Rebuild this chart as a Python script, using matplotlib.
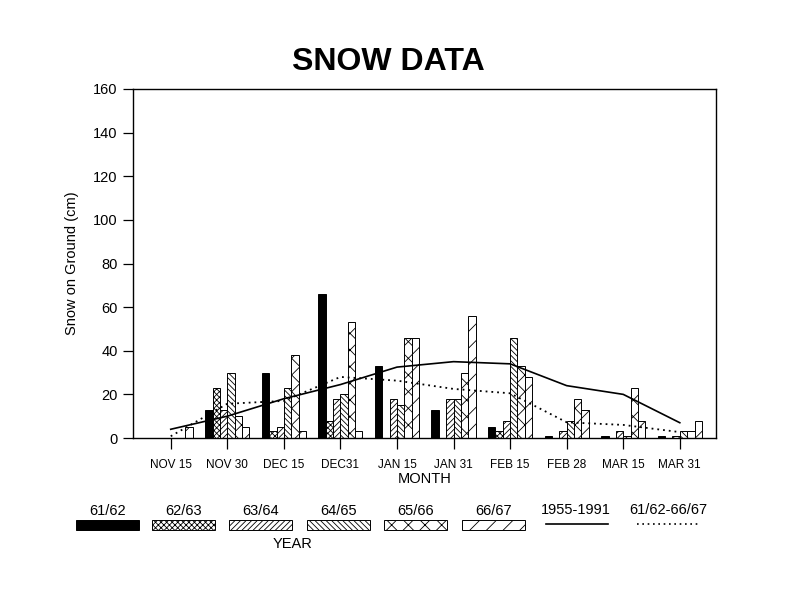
import matplotlib
matplotlib.use("Agg")
import matplotlib.pyplot as plt
import numpy as np
from matplotlib.patches import Rectangle
from matplotlib.lines import Line2D

plt.rcParams['font.family'] = ['Liberation Sans', 'DejaVu Sans']
plt.rcParams['hatch.linewidth'] = 0.6

# data
months = ["NOV 15", "NOV 30", "DEC 15", "DEC31", "JAN 15",
          "JAN 31", "FEB 15", "FEB 28", "MAR 15", "MAR 31"]
years = ["61/62", "62/63", "63/64", "64/65", "65/66", "66/67"]
s6162 = [0, 13, 30, 66, 33, 13, 5, 1, 1, 1]
s6263 = [0, 23, 3, 8, 0, 0, 3, 0, 0, 0]
s6364 = [0, 13, 5, 18, 18, 18, 8, 3, 3, 1]
s6465 = [0, 30, 23, 20, 15, 18, 46, 8, 1, 3]
s6566 = [0, 10, 38, 53, 46, 30, 33, 18, 23, 3]
s6667 = [5, 5, 3, 3, 46, 56, 28, 13, 8, 8]
avg_1955_1991 = [4, 10, 18, 24.5, 32.5, 35, 34, 24, 20, 7]
avg_6162_6667 = [0.8, 15.7, 17, 28, 26.3, 22.5, 20.5, 7.2, 6, 2.7]

series = [s6162, s6263, s6364, s6465, s6566, s6667]
styles = [dict(color="black", hatch=None),
          dict(color="white", hatch="xxxxxx"),
          dict(color="white", hatch="//////"),
          dict(color="white", hatch="\\\\\\\\\\\\"),
          dict(color="white", hatch="xx"),
          dict(color="white", hatch="//")]

fig = plt.figure(figsize=(8, 6), dpi=100)
ax = fig.add_axes([133 / 800, 1 - 438 / 600, (716 - 133) / 800, (438 - 89) / 600])

x = np.arange(len(months))
w = 0.13
for i, (vals, st) in enumerate(zip(series, styles)):
    ax.bar(x + (i - 2.5) * w, vals, width=w, color=st["color"], hatch=st["hatch"],
           edgecolor="black", linewidth=0.7)

ax.plot(x, avg_1955_1991, color="black", linewidth=1.2)
ax.plot(x, avg_6162_6667, color="black", linewidth=1.3, linestyle=(0, (1, 2.2)))

ax.set_xlim(-0.667, 9.64)
ax.set_ylim(0, 160)
ax.set_yticks(range(0, 161, 20))
ax.set_xticks(x)
ax.set_xticklabels(months, fontsize=8.5)
ax.tick_params(axis="y", labelsize=10.5, length=7, width=0.9, pad=4)
ax.tick_params(axis="x", length=8, width=0.9, pad=7)
for sp in ax.spines.values():
    sp.set_linewidth(1.0)
ax.set_ylabel("Snow on Ground (cm)", fontsize=10.5, labelpad=10)
ax.set_xlabel("MONTH", fontsize=10.5, labelpad=1)
fig.text(388 / 800, 1 - 62 / 600, "SNOW DATA", fontsize=23, fontweight="bold",
         ha="center", va="center")

# legend row below the chart
leg = fig.add_axes([0, 0, 1, 1])
leg.set_xlim(0, 800)
leg.set_ylim(600, 0)
leg.axis("off")
leg_x0 = [76, 152, 229, 307, 384, 462]
for lx, name, st in zip(leg_x0, years, styles):
    leg.add_patch(Rectangle((lx, 520), 63, 10, facecolor=st["color"], hatch=st["hatch"],
                            edgecolor="black", linewidth=0.7))
    leg.text(lx + 31.5, 511, name, fontsize=10.5, ha="center", va="center")
leg.add_line(Line2D([546, 608], [524, 524], color="black", linewidth=1.2))
leg.text(576, 510, "1955-1991", fontsize=10.5, ha="center", va="center")
leg.add_line(Line2D([637, 700], [524, 524], color="black", linewidth=1.2,
                    linestyle=(0, (1, 2.2))))
leg.text(668, 510, "61/62-66/67", fontsize=10.5, ha="center", va="center")
leg.text(293, 544, "YEAR", fontsize=10.5, ha="center", va="center")

fig.savefig("out.png", dpi=100)
